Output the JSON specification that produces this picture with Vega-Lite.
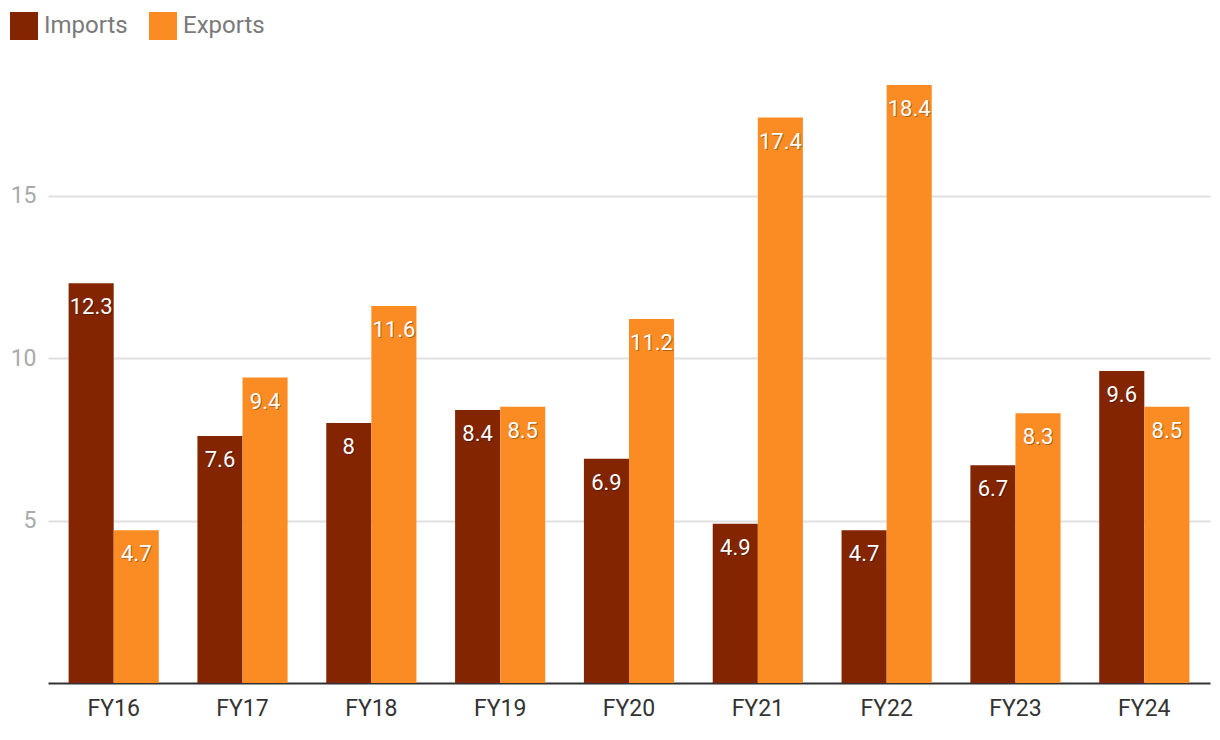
{
  "$schema": "https://vega.github.io/schema/vega-lite/v6.json",
  "width": 1162,
  "height": 650,
  "autosize": {"type": "none"},
  "padding": {"left": 48, "top": 33, "right": 10, "bottom": 57},
  "background": "white",
  "config": {
    "font": "Roboto",
    "view": {"stroke": null}
  },
  "data": {
    "values": [
      {"fy": "FY16", "type": "Imports", "value": 12.3},
      {"fy": "FY16", "type": "Exports", "value": 4.7},
      {"fy": "FY17", "type": "Imports", "value": 7.6},
      {"fy": "FY17", "type": "Exports", "value": 9.4},
      {"fy": "FY18", "type": "Imports", "value": 8},
      {"fy": "FY18", "type": "Exports", "value": 11.6},
      {"fy": "FY19", "type": "Imports", "value": 8.4},
      {"fy": "FY19", "type": "Exports", "value": 8.5},
      {"fy": "FY20", "type": "Imports", "value": 6.9},
      {"fy": "FY20", "type": "Exports", "value": 11.2},
      {"fy": "FY21", "type": "Imports", "value": 4.9},
      {"fy": "FY21", "type": "Exports", "value": 17.4},
      {"fy": "FY22", "type": "Imports", "value": 4.7},
      {"fy": "FY22", "type": "Exports", "value": 18.4},
      {"fy": "FY23", "type": "Imports", "value": 6.7},
      {"fy": "FY23", "type": "Exports", "value": 8.3},
      {"fy": "FY24", "type": "Imports", "value": 9.6},
      {"fy": "FY24", "type": "Exports", "value": 8.5}
    ]
  },
  "encoding": {
    "x": {
      "field": "fy", "type": "nominal", "sort": null, "title": null,
      "scale": {"paddingInner": 0.3, "paddingOuter": 0.16},
      "axis": {
        "labelAngle": 0, "labelFontSize": 23, "labelColor": "#333333",
        "labelPadding": 14, "ticks": false, "domainColor": "#333333",
        "domainWidth": 2, "grid": false
      }
    },
    "xOffset": {"field": "type", "type": "nominal", "sort": ["Imports", "Exports"]},
    "y": {
      "field": "value", "type": "quantitative", "title": null,
      "scale": {"domain": [0, 20], "nice": false},
      "axis": {
        "values": [5, 10, 15], "labelFontSize": 23, "labelColor": "#aaaaaa",
        "labelPadding": 12, "ticks": false, "domain": false,
        "gridColor": "#e0e0e0", "gridWidth": 2
      }
    }
  },
  "layer": [
    {
      "mark": {"type": "bar"},
      "encoding": {
        "color": {
          "field": "type", "type": "nominal", "sort": ["Imports", "Exports"], "title": null,
          "scale": {"domain": ["Imports", "Exports"], "range": ["#822500", "#fa8c23"]},
          "legend": {
            "orient": "none", "legendX": -38, "legendY": -21, "direction": "horizontal",
            "symbolType": "square", "symbolSize": 784, "symbolStrokeWidth": 0,
            "symbolOpacity": 1,
            "labelFontSize": 24, "labelColor": "#7a7a7a", "labelLimit": 200,
            "columnPadding": 21, "labelOffset": 6
          }
        }
      }
    },
    {
      "mark": {"type": "text", "baseline": "middle", "dy": 25, "dx": 1, "fontSize": 22, "color": "#000000", "opacity": 0.3},
      "encoding": {"text": {"field": "value", "type": "quantitative"}}
    },
    {
      "mark": {"type": "text", "baseline": "middle", "dy": 24, "fontSize": 22, "color": "#ffffff"},
      "encoding": {"text": {"field": "value", "type": "quantitative"}}
    }
  ]
}
